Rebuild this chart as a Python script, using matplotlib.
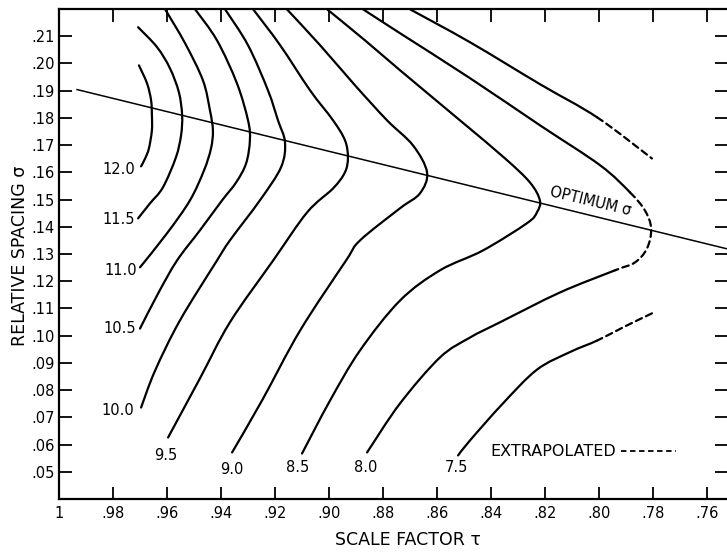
import matplotlib.pyplot as plt
from matplotlib.lines import Line2D
from matplotlib.path import Path
from matplotlib.patches import PathPatch

# Gain contours (dB) over scale factor tau and relative spacing sigma.
# Each contour is listed from its upper end (top of the chart) down to the labelled end.
tau_120 = [0.9704, 0.9674, 0.9659, 0.9656, 0.9656, 0.9667, 0.9681, 0.9696]
sig_120 = [0.1993, 0.1927, 0.1865, 0.1810, 0.1754, 0.1688, 0.1651, 0.1622]

tau_115 = [0.9707, 0.9637, 0.9589, 0.9556, 0.9544, 0.9548, 0.9567, 0.9615, 0.9663, 0.9707]
sig_115 = [0.2133, 0.2060, 0.1982, 0.1894, 0.1810, 0.1736, 0.1655, 0.1545, 0.1486, 0.1431]

tau_110 = [0.9607, 0.9533, 0.9467, 0.9441, 0.9430, 0.9437, 0.9463, 0.9515, 0.9600, 0.9700]
sig_110 = [0.2199, 0.2074, 0.1938, 0.1828, 0.1754, 0.1688, 0.1607, 0.1497, 0.1376, 0.1251]

tau_105 = [0.9496, 0.9415, 0.9341, 0.9300, 0.9293, 0.9307, 0.9344, 0.9396, 0.9478, 0.9563, 0.9633, 0.9700]
sig_105 = [0.2199, 0.2085, 0.1927, 0.1791, 0.1718, 0.1633, 0.1563, 0.1497, 0.1387, 0.1276, 0.1155, 0.1026]

tau_100 = [0.9385, 0.9300, 0.9226, 0.9189, 0.9163, 0.9178, 0.9256, 0.9367, 0.9415, 0.9552, 0.9644, 0.9696]
sig_100 = [0.2199, 0.2067, 0.1901, 0.1791, 0.1710, 0.1618, 0.1497, 0.1350, 0.1276, 0.1056, 0.0872, 0.0736]

tau_95 = [0.9281, 0.9181, 0.9070, 0.8985, 0.8941, 0.8930, 0.8941, 0.8985, 0.9081, 0.9207, 0.9367, 0.9478, 0.9596]
sig_95 = [0.2199, 0.2067, 0.1901, 0.1791, 0.1718, 0.1655, 0.1600, 0.1541, 0.1453, 0.1276, 0.1049, 0.0843, 0.0626]

tau_90 = [0.9156, 0.9033, 0.8904, 0.8785, 0.8689, 0.8637, 0.8663, 0.8737, 0.8885, 0.8937, 0.9107, 0.9248, 0.9359]
sig_90 = [0.2199, 0.2067, 0.1920, 0.1791, 0.1699, 0.1600, 0.1523, 0.1468, 0.1350, 0.1276, 0.1019, 0.0762, 0.0571]

tau_85 = [0.9007, 0.8867, 0.8737, 0.8515, 0.8348, 0.8256, 0.8219, 0.8230, 0.8267, 0.8430, 0.8589, 0.8737,
          0.8885, 0.8996, 0.9100]
sig_85 = [0.2199, 0.2085, 0.1975, 0.1791, 0.1651, 0.1563, 0.1497, 0.1453, 0.1413, 0.1313, 0.1240, 0.1129,
          0.0946, 0.0762, 0.0567]

# 8.0 dB closes round the nose; points 5..10 are extrapolated
tau_80 = [0.8874, 0.8737, 0.8478, 0.8219, 0.7996, 0.7885, 0.7830, 0.7807, 0.7822, 0.7867, 0.7941,
          0.8144, 0.8367, 0.8478, 0.8589, 0.8737, 0.8859]
sig_80 = [0.2199, 0.2111, 0.1946, 0.1773, 0.1626, 0.1526, 0.1460, 0.1394, 0.1321, 0.1269, 0.1240,
          0.1159, 0.1049, 0.0993, 0.0920, 0.0751, 0.0571]
ext_80 = (5, 10)

# 7.5 dB stays open: upper branch (last segment extrapolated) and lower branch
# (listed from its extrapolated tip down to the labelled end)
tau_75_up = [0.8700, 0.8478, 0.8219, 0.8007, 0.7804]
sig_75_up = [0.2199, 0.2078, 0.1924, 0.1802, 0.1651]
ext_75_up = (3, 4)
tau_75_low = [0.7804, 0.7904, 0.8007, 0.8107, 0.8230, 0.8356, 0.8478, 0.8522]
sig_75_low = [0.1082, 0.1034, 0.0982, 0.0940, 0.0875, 0.0751, 0.0615, 0.0560]
ext_75_low = (0, 2)

# optimum spacing line
tau_opt = [0.9933, 0.7526]
sig_opt = [0.1904, 0.1319]

x_ticks = [1.0, 0.98, 0.96, 0.94, 0.92, 0.90, 0.88, 0.86, 0.84, 0.82, 0.80, 0.78, 0.76]
x_labels = ['1', '.98', '.96', '.94', '.92', '.90', '.88', '.86', '.84', '.82', '.80', '.78', '.76']
y_ticks = [0.05, 0.06, 0.07, 0.08, 0.09, 0.10, 0.11, 0.12, 0.13, 0.14, 0.15, 0.16, 0.17, 0.18, 0.19, 0.20, 0.21]
y_labels = ['.05', '.06', '.07', '.08', '.09', '.10', '.11', '.12', '.13', '.14', '.15', '.16', '.17',
            '.18', '.19', '.20', '.21']


def smooth_path(t, s, start=0, stop=None):
    # Catmull-Rom through the points, written as cubic Bezier pieces
    pts = list(zip(t, s))
    n = len(pts)
    if stop is None:
        stop = n - 1
    verts = [pts[start]]
    codes = [Path.MOVETO]
    for i in range(start, stop):
        p0 = pts[max(i - 1, 0)]
        p1, p2 = pts[i], pts[i + 1]
        p3 = pts[min(i + 2, n - 1)]
        c1 = (p1[0] + (p2[0] - p0[0]) / 6, p1[1] + (p2[1] - p0[1]) / 6)
        c2 = (p2[0] - (p3[0] - p1[0]) / 6, p2[1] - (p3[1] - p1[1]) / 6)
        verts += [c1, c2, p2]
        codes += [Path.CURVE4] * 3
    return Path(verts, codes)


plt.rcParams['font.family'] = ['DejaVu Sans']

fig = plt.figure(figsize=(7.27, 5.54), dpi=100)
ax = fig.add_axes([59 / 727, 1 - 499 / 554, 668 / 727, 490 / 554])

lw = 1.6
dash = (0, (3, 2))


def draw(t, s, ext=None):
    n = len(t)
    if ext is None:
        parts = [(0, n - 1, '-')]
    else:
        parts = [(0, ext[0], '-'), (ext[0], ext[1], dash), (ext[1], n - 1, '-')]
    for a, b, ls in parts:
        if b > a:
            ax.add_patch(PathPatch(smooth_path(t, s, a, b), fill=False, color='k', lw=lw,
                                   linestyle=ls, capstyle='round', joinstyle='round'))


for t, s in [(tau_120, sig_120), (tau_115, sig_115), (tau_110, sig_110), (tau_105, sig_105),
             (tau_100, sig_100), (tau_95, sig_95), (tau_90, sig_90), (tau_85, sig_85)]:
    draw(t, s)
draw(tau_80, sig_80, ext_80)
draw(tau_75_up, sig_75_up, ext_75_up)
draw(tau_75_low, sig_75_low, ext_75_low)

ax.plot(tau_opt, sig_opt, color='k', lw=1.1)

# contour values at the lower ends of the curves
ends = [('12.0', tau_120, sig_120, (-4, -2), 'right'),
        ('11.5', tau_115, sig_115, (-2, -1), 'right'),
        ('11.0', tau_110, sig_110, (-2, -2), 'right'),
        ('10.5', tau_105, sig_105, (-3, 0), 'right'),
        ('10.0', tau_100, sig_100, (-5, -2), 'right'),
        ('9.5', tau_95, sig_95, (-2, -13), 'center'),
        ('9.0', tau_90, sig_90, (0, -12), 'center'),
        ('8.5', tau_85, sig_85, (-3, -10), 'center'),
        ('8.0', tau_80, sig_80, (-1, -11), 'center'),
        ('7.5', tau_75_low, sig_75_low, (-1, -9), 'center')]
for txt, t, s, off, ha in ends:
    ax.annotate(txt, (t[-1], s[-1]), xytext=off, textcoords='offset points',
                ha=ha, va='center', fontsize=10.5)

ax.text(0.8033, 0.1494, 'OPTIMUM σ', rotation=-13.5, rotation_mode='anchor',
        ha='center', va='center', fontsize=10.5)

ext = Line2D([], [], color='k', lw=1.3, linestyle=(0, (3, 2)))
ax.legend([ext], ['EXTRAPOLATED'], loc='lower left', bbox_to_anchor=(0.625, 0.052),
          markerfirst=False, frameon=False, fontsize=11.5, handlelength=3.4, handletextpad=0.3)

ax.set_xlim(1.0, 0.7526)
ax.set_ylim(0.04, 0.22)
ax.set_xticks(x_ticks)
ax.set_xticklabels(x_labels)
ax.set_yticks(y_ticks)
ax.set_yticklabels(y_labels)
ax.tick_params(direction='in', length=9, width=1.3, top=True, right=True, labelsize=10.5)
ax.tick_params(axis='x', pad=5)
ax.tick_params(axis='y', pad=3)
for side in ['left', 'top', 'bottom']:
    ax.spines[side].set_linewidth(1.6)
ax.spines['right'].set_visible(False)

fig.text(408 / 727, 1 - 540 / 554, 'SCALE FACTOR τ', ha='center', va='center', fontsize=12.5)
fig.text(20 / 727, 1 - 256 / 554, 'RELATIVE SPACING σ', ha='center', va='center',
         rotation=90, fontsize=12.5)

plt.savefig('out.png', dpi=100)
